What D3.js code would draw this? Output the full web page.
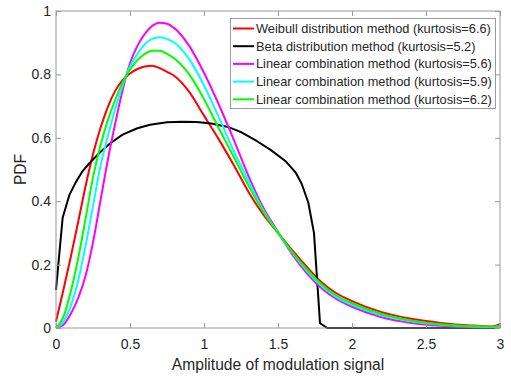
<!DOCTYPE html>
<html>
<head>
<meta charset="utf-8">
<script src="https://cdn.jsdelivr.net/npm/d3@7"></script>
<style>
  html, body { margin: 0; padding: 0; background: #fff; }
  svg { display: block; font-family: "Liberation Sans", Arial, sans-serif; }
</style>
</head>
<body>
<figure id="pdf" style="margin:0"></figure>
<script>
// amplitude grid shared by the four smooth curves
const amp = [0, 0.05, 0.1, 0.15, 0.2, 0.25, 0.3, 0.35, 0.4, 0.45, 0.5, 0.55, 0.6, 0.65, 0.7, 0.75, 0.8,
  0.9, 1.0, 1.1, 1.2, 1.3, 1.4, 1.5, 1.6, 1.7, 1.8, 1.9, 2.0, 2.2, 2.4, 2.6, 2.8, 2.95, 3.0];

const weibull = [0.02, 0.12, 0.225, 0.335, 0.448, 0.548, 0.63, 0.697, 0.748, 0.782, 0.803, 0.817, 0.825, 0.827, 0.82, 0.808, 0.795,
  0.745, 0.67, 0.595, 0.515, 0.43, 0.358, 0.3, 0.243, 0.19, 0.142, 0.108, 0.085, 0.05, 0.029, 0.016, 0.008, 0.005, 0.012];

const lin56 = [0, 0.01, 0.045, 0.095, 0.165, 0.27, 0.4, 0.53, 0.645, 0.75, 0.835, 0.89, 0.928, 0.953, 0.963, 0.96, 0.946,
  0.89, 0.805, 0.705, 0.595, 0.48, 0.38, 0.303, 0.23, 0.17, 0.123, 0.09, 0.067, 0.034, 0.016, 0.007, 0.003, 0.002, 0.003];

const lin59 = [0, 0.02, 0.07, 0.15, 0.26, 0.385, 0.51, 0.605, 0.69, 0.765, 0.825, 0.865, 0.895, 0.912, 0.917, 0.912, 0.9,
  0.848, 0.765, 0.665, 0.56, 0.465, 0.372, 0.3, 0.235, 0.177, 0.13, 0.096, 0.073, 0.04, 0.021, 0.01, 0.005, 0.003, 0.005];

const lin62 = [0, 0.035, 0.115, 0.22, 0.345, 0.475, 0.575, 0.655, 0.72, 0.775, 0.815, 0.845, 0.865, 0.875, 0.875, 0.865, 0.85,
  0.8, 0.722, 0.63, 0.54, 0.45, 0.367, 0.3, 0.238, 0.183, 0.136, 0.101, 0.078, 0.044, 0.024, 0.012, 0.006, 0.004, 0.008];

// beta curve has its own sample points (sharp cut near 1.8)
const betaAmp = [0, 0.045, 0.09, 0.135, 0.18, 0.23, 0.3, 0.365, 0.45, 0.55, 0.635, 0.75, 0.85, 0.95, 1.05, 1.17, 1.25,
  1.356, 1.45, 1.554, 1.62, 1.66, 1.705, 1.743, 1.784, 1.833, 3.0];
const beta = [0.12, 0.348, 0.419, 0.461, 0.495, 0.522, 0.555, 0.582, 0.61, 0.63, 0.641, 0.649, 0.651, 0.65, 0.645, 0.633, 0.618,
  0.59, 0.562, 0.525, 0.49, 0.455, 0.395, 0.3, 0.015, 0, 0];

const seriesNames = [
  "Weibull distribution method (kurtosis=6.6)",
  "Beta distribution method (kurtosis=5.2)",
  "Linear combination method (kurtosis=5.6)",
  "Linear combination method (kurtosis=5.9)",
  "Linear combination method (kurtosis=6.2)"
];
const seriesColors = ["#ff0000", "#000000", "#ff00ff", "#00ffff", "#00ff00"];

const xTicks = [0, 0.5, 1, 1.5, 2, 2.5, 3];
const xTickLabels = ["0", "0.5", "1", "1.5", "2", "2.5", "3"];
const yTicks = [0, 0.2, 0.4, 0.6, 0.8, 1];
const yTickLabels = ["0", "0.2", "0.4", "0.6", "0.8", "1"];

const W = 511, H = 377;
const plotLeft = 56, plotRight = 500, plotTop = 11, plotBottom = 328;
const axisColor = "#9a9a9a", textColor = "#262626";

const svg = d3.select("figure#pdf")
  .append("svg")
  .attr("width", W)
  .attr("height", H);

const x = d3.scaleLinear().domain([0, 3]).range([plotLeft, plotRight]);
const y = d3.scaleLinear().domain([0, 1]).range([plotBottom, plotTop]);

// curves
const smooth = d3.line()
  .x(d => x(d[0]))
  .y(d => y(d[1]))
  .curve(d3.curveMonotoneX);

const straight = d3.line()
  .x(d => x(d[0]))
  .y(d => y(d[1]));

const curves = [
  { pts: d3.zip(amp, weibull), line: smooth, color: seriesColors[0] },
  { pts: d3.zip(betaAmp, beta), line: straight, color: seriesColors[1] },
  { pts: d3.zip(amp, lin56), line: smooth, color: seriesColors[2] },
  { pts: d3.zip(amp, lin59), line: smooth, color: seriesColors[3] },
  { pts: d3.zip(amp, lin62), line: smooth, color: seriesColors[4] }
];

const plot = svg.append("g");
plot.selectAll("path")
  .data(curves)
  .enter()
  .append("path")
  .attr("d", d => d.line(d.pts))
  .attr("fill", "none")
  .attr("stroke", d => d.color)
  .attr("stroke-width", 2)
  .attr("stroke-linejoin", "round");

// axes, ticks pointing inward like a boxed plot
function styleAxis(g) {
  g.select(".domain").remove();
  g.selectAll("line").attr("stroke", axisColor);
  g.selectAll("text")
    .attr("fill", textColor)
    .style("font-size", "14px")
    .style("font-family", "'Liberation Sans', Arial, sans-serif");
}

svg.append("g")
  .attr("transform", "translate(0," + plotBottom + ")")
  .call(d3.axisBottom(x).tickValues(xTicks)
    .tickFormat((d, i) => xTickLabels[i])
    .tickSizeInner(-5).tickSizeOuter(0).tickPadding(11))
  .call(styleAxis);

svg.append("g")
  .attr("transform", "translate(0," + plotTop + ")")
  .call(d3.axisTop(x).tickValues(xTicks).tickFormat("")
    .tickSizeInner(-5).tickSizeOuter(0))
  .call(styleAxis);

svg.append("g")
  .attr("transform", "translate(" + plotLeft + ",0)")
  .call(d3.axisLeft(y).tickValues(yTicks)
    .tickFormat((d, i) => yTickLabels[i])
    .tickSizeInner(-5).tickSizeOuter(0).tickPadding(5))
  .call(styleAxis);

svg.append("g")
  .attr("transform", "translate(" + plotRight + ",0)")
  .call(d3.axisRight(y).tickValues(yTicks).tickFormat("")
    .tickSizeInner(-5).tickSizeOuter(0))
  .call(styleAxis);

// box
svg.append("rect")
  .attr("x", plotLeft)
  .attr("y", plotTop)
  .attr("width", plotRight - plotLeft)
  .attr("height", plotBottom - plotTop)
  .attr("fill", "none")
  .attr("stroke", axisColor)
  .attr("stroke-width", 1);

// axis labels
svg.append("text")
  .attr("x", (plotLeft + plotRight) / 2)
  .attr("y", 369.5)
  .attr("text-anchor", "middle")
  .attr("fill", textColor)
  .style("font-size", "15.6px")
  .text("Amplitude of modulation signal");

svg.append("text")
  .attr("transform", "translate(26," + (plotTop + plotBottom) / 2 + ")rotate(-90)")
  .attr("text-anchor", "middle")
  .attr("fill", textColor)
  .style("font-size", "15.6px")
  .text("PDF");

// legend
const legend = svg.append("g");
legend.append("rect")
  .attr("x", 230.5)
  .attr("y", 18.5)
  .attr("width", 265)
  .attr("height", 90)
  .attr("fill", "#fff")
  .attr("stroke", axisColor);

const rows = legend.selectAll("g.row")
  .data(seriesNames)
  .enter()
  .append("g")
  .attr("class", "row")
  .attr("transform", (d, i) => "translate(0," + (28.5 + i * 17.7) + ")");

rows.append("line")
  .attr("x1", 233)
  .attr("x2", 254)
  .attr("stroke", (d, i) => seriesColors[i])
  .attr("stroke-width", 2);

rows.append("text")
  .attr("x", 256)
  .attr("dy", "0.35em")
  .attr("fill", textColor)
  .style("font-size", "12.8px")
  .text(d => d);
</script>
</body>
</html>
